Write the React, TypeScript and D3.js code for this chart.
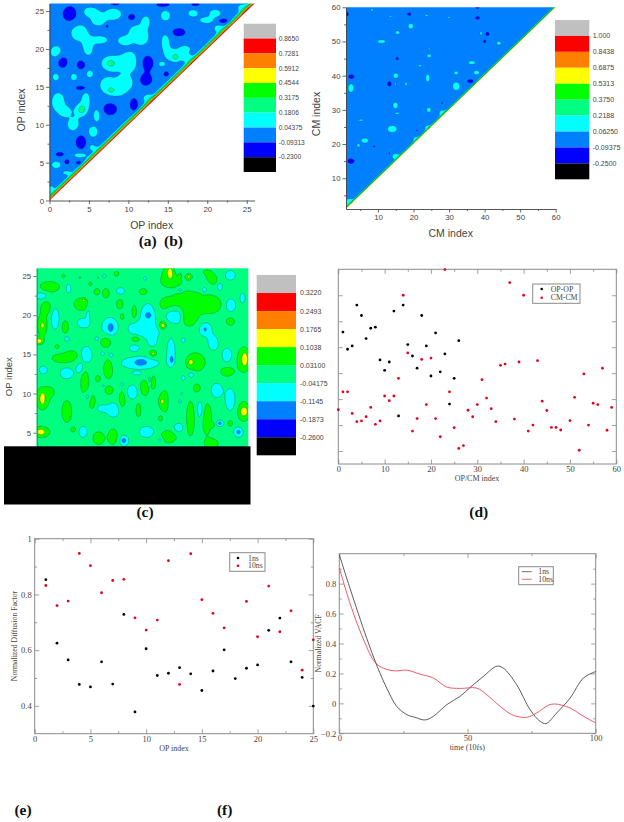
import React, { useEffect, useRef } from 'react';
import * as d3 from 'd3';

type Blob = [number, number, number, number]; // x, y, radius in x, radius in y (data units)

const levelColors = ['#000000', '#0000ff', '#0080ff', '#00ffff', '#00ff80', '#00ff00', '#ffff00', '#ff8000', '#ff0000', '#c0c0c0'];

// (a) OP-OP correlation
const opLevels = [-0.23, -0.09313, 0.04375, 0.1806, 0.3175, 0.4544, 0.5912, 0.7281, 0.865];
const opLevelLabels = ['0.8650', '0.7281', '0.5912', '0.4544', '0.3175', '0.1806', '0.04375', '-0.09313', '-0.2300'];
const opRaised: Blob[] = [
  [5.15, 24.9, 0.9, 0.6], [6.2, 23.8, 0.8, 0.7], [8.1, 24.6, 1.0, 0.75], [3.7, 22.2, 1.0, 1.1], [4.9, 20.3, 0.6, 1.1],
  [6.4, 21.2, 0.9, 0.5], [0.85, 19.6, 0.7, 0.8], [9.5, 21.1, 0.8, 0.55], [11.1, 22.2, 1, 0.9], [12.2, 23.6, 0.5, 0.7],
  [11.7, 21.4, 0.7, 0.8], [14.7, 24.4, 0.6, 0.65], [18.2, 24.7, 0.6, 0.45], [19.9, 23.8, 0.8, 0.4], [21, 24.7, 0.7, 0.5],
  [14.7, 20.9, 0.5, 1], [15.7, 19.2, 1, 0.8], [17.2, 20, 0.6, 0.4], [7.9, 18.1, 1.3, 1], [10.2, 18.3, 1, 1.3],
  [5.1, 16.7, 0.4, 0.45], [3.1, 16.3, 0.4, 0.45], [0.8, 16.3, 0.4, 0.45], [8.3, 14.8, 1.5, 1.1], [9.6, 15.6, 0.8, 0.7],
  [7.3, 15.4, 0.6, 0.6], [1.1, 13, 0.8, 1.2], [2, 11.7, 0.6, 0.6], [4.6, 13.2, 0.5, 1], [3.9, 11.9, 0.7, 0.8],
  [3, 10, 0.7, 0.8], [6, 11.25, 0.4, 0.8], [5.5, 9.05, 0.6, 0.7], [3.9, 6, 0.8, 0.35], [0.85, 4.7, 0.55, 0.45],
  [2.2, 3.65, 0.5, 0.25], [14.2, 18, 0.4, 0.3], [0.2, 1.5, 0.35, 0.4],
  [5.5, 7, 0.5, 0.4], [12.5, 13.5, 0.6, 0.5], [17.5, 18.8, 0.6, 0.5], [21.5, 22.7, 0.6, 0.5], [24.5, 25.4, 0.6, 0.5],
];
const opPeaks: Blob[] = [[7.75, 18.1, 0.5, 0.4], [16, 18.9, 0.4, 0.4], [7.8, 14.55, 0.35, 0.3], [4.1, 12, 0.4, 0.45]];
const opDips: Blob[] = [
  [2.6, 24.6, 0.9, 1], [10.4, 24.2, 0.45, 0.4], [7.3, 23, 0.15, 0.2], [16.4, 22.2, 0.8, 0.5], [22, 23.7, 0.6, 0.3],
  [1.65, 18.3, 0.6, 0.75], [4, 17.9, 0.5, 0.55], [12.4, 18.15, 0.75, 0.95], [12.2, 15.9, 0.75, 0.7], [4, 14.85, 0.6, 0.25],
  [7.7, 12.1, 0.85, 0.8], [10.7, 12.7, 0.5, 0.85], [4, 7.7, 0.65, 0.9], [1.3, 6.1, 0.5, 0.25], [2.2, 5.1, 0.3, 0.3],
  [3.7, 5, 0.35, 0.2], [14.8, 16.7, 0.3, 0.3], [8.3, 26, 0.6, 0.25], [14.4, 25.85, 0.8, 0.3], [18.5, 25.9, 0.5, 0.2],
  [5.8, 7.4, 0.12, 0.12],
];

// (b) CM-CM correlation
const cmLevels = [-0.25, -0.09375, 0.0625, 0.2188, 0.375, 0.5313, 0.6875, 0.8438, 1.0];
const cmLevelLabels = ['1.000', '0.8438', '0.6875', '0.5313', '0.3750', '0.2188', '0.06250', '-0.09375', '-0.2500'];
const cmRaised: Blob[] = [
  [11, 50, 1.1, 0.5], [19.2, 54.5, 0.7, 0.8], [15.5, 52.6, 0.6, 0.5], [13.5, 57.3, 0.4, 0.25], [23.7, 57.6, 0.4, 0.3],
  [8.3, 59.2, 0.3, 0.4], [30, 57, 0.3, 0.3], [39, 52.4, 0.3, 0.5], [44, 49.5, 0.6, 0.5], [24.4, 45.8, 0.6, 0.5],
  [24.4, 47.9, 0.3, 0.2], [36.4, 43.8, 1, 0.5], [21.8, 42.9, 0.5, 0.3], [37.7, 40.9, 0.8, 0.6], [32, 40.8, 0.6, 0.5],
  [15, 40, 0.7, 0.7], [24, 39.3, 0.55, 1.1], [2.4, 36.4, 0.8, 1.2], [32, 36.9, 1, 1.2], [17.9, 37.6, 0.3, 0.6],
  [14.9, 37.5, 0.15, 0.5], [14.9, 31.3, 0.7, 0.9], [24.3, 30, 0.6, 0.7], [15.4, 29, 0.7, 0.25], [5.2, 27, 0.7, 0.25],
  [14, 24.4, 1.3, 1], [6.3, 21, 1, 0.7], [4.5, 19.6, 0.4, 0.5], [28.2, 29, 1, 0.9], [24.2, 24.7, 1, 0.8],
  [20.9, 21.4, 1, 0.7], [15, 16.4, 1, 0.8], [2, 3, 1.5, 1],
];
const cmDips: Blob[] = [
  [1.2, 58, 0.5, 0.6], [18.8, 58, 0.5, 0.4], [38, 59.9, 0.5, 0.3], [38, 56.9, 0.6, 0.4], [40.8, 52.2, 0.5, 0.5],
  [40, 50, 0.4, 0.4], [15.4, 45, 0.4, 0.4], [2.5, 39.7, 0.8, 0.6], [13.2, 37.6, 0.5, 0.7], [36, 38.4, 0.8, 0.5],
  [2.4, 15, 0.9, 0.7], [28, 32, 0.2, 0.2], [8.9, 19.3, 0.2, 0.2], [13.2, 17.3, 0.2, 0.2], [21, 24, 0.2, 0.2],
];

// (c) OP-CM correlation
const crossLevels = [-0.26, -0.1873, -0.1145, -0.04175, 0.031, 0.1038, 0.1765, 0.2493, 0.322];
const crossLevelLabels = ['0.3220', '0.2493', '0.1765', '0.1038', '0.03100', '-0.04175', '-0.1145', '-0.1873', '-0.2600'];
const crossGreen: Blob[] = [
  [1.6, 23.6, 1.2, 0.7], [1.2, 21, 0.6, 0.8], [0.7, 18.7, 0.6, 1.4], [0.3, 16.7, 0.5, 0.4], [3.3, 14.5, 1.4, 0.6],
  [4.3, 15, 0.6, 0.4], [0.7, 9.4, 0.9, 1.4], [1.6, 10.2, 0.5, 0.5], [0.6, 5.1, 1, 0.7], [5.5, 21.4, 0.9, 0.8],
  [3.5, 18.5, 0.4, 0.8], [10.2, 21.4, 0.4, 0.6], [12, 20.4, 0.3, 0.9], [7.4, 23, 0.35, 0.4], [8.5, 22.8, 0.4, 0.6],
  [10.5, 19.8, 0.25, 0.4], [8.5, 16.6, 0.7, 0.7], [12.2, 17, 0.6, 0.4], [5.9, 11.4, 0.5, 1.7], [7.5, 11.9, 0.3, 0.4],
  [8.8, 13.2, 0.6, 1.3], [6.8, 9, 0.4, 1], [3.7, 7.7, 0.6, 1.4], [4.5, 5.4, 0.3, 0.3], [10.5, 9.2, 0.4, 1.1],
  [8.9, 10.4, 0.5, 0.5], [12.5, 7.9, 0.3, 0.9], [13.2, 10.7, 0.6, 1], [14.3, 15.1, 0.5, 0.5], [7.6, 4.3, 0.7, 0.8],
  [9.4, 4.5, 0.6, 1], [16, 9, 1, 1.5], [14.3, 11.5, 0.3, 0.8], [19.5, 14, 1.2, 1.2], [18.9, 6.8, 0.5, 2.2],
  [20.9, 6.8, 0.6, 2], [23.4, 12.8, 0.8, 0.6], [16.6, 24.3, 1.2, 0.7], [16.2, 25.3, 0.7, 1], [19.7, 21.5, 2.5, 1.1],
  [18.4, 22.2, 1.2, 0.7], [16, 21.3, 0.9, 0.9], [18.8, 19.6, 1, 1], [21.3, 21.3, 1, 0.8], [15.5, 18.7, 0.5, 0.6],
  [23.8, 19.2, 0.5, 0.5], [25.4, 14.3, 0.8, 1.5], [25.4, 7.7, 0.7, 1.3], [20.9, 25.1, 0.8, 0.7], [18.7, 24.9, 0.4, 0.4],
  [21.7, 24.5, 0.4, 0.5], [13.1, 23, 0.5, 0.4], [9.8, 25.3, 0.3, 0.3], [16.2, 4.5, 1, 0.8], [19.7, 10.7, 0.4, 0.5],
  [23.8, 6.2, 0.3, 0.4], [15.2, 6.8, 0.2, 0.3], [21.5, 3.6, 0.8, 0.6], [3.3, 25, 0.2, 0.2], [5.3, 24.8, 0.12, 0.12],
  [6.6, 24, 0.2, 0.25], [7.5, 24.8, 0.1, 0.1], [2.5, 16, 0.25, 0.25],
];
const crossYellow: Blob[] = [
  [0.7, 18.7, 0.2, 0.3], [0.3, 16.7, 0.3, 0.3], [0.7, 9.3, 0.3, 0.8], [0.5, 5.1, 0.5, 0.4], [5.8, 21.9, 0.2, 0.2],
  [14.3, 15.1, 0.15, 0.2], [15.4, 9, 0.25, 0.35], [18.9, 14, 0.3, 0.35], [21.6, 6, 0.25, 0.3], [16.4, 25.5, 0.3, 0.7],
  [17.6, 25.1, 0.15, 0.25], [15.5, 18.7, 0.3, 0.35], [25.6, 14.4, 0.4, 1], [25.5, 7.7, 0.5, 0.6], [18.7, 24.9, 0.15, 0.15],
];
const crossCyan: Blob[] = [
  [0.6, 22.5, 0.7, 0.5], [3.9, 23.4, 0.3, 0.6], [2.25, 19.6, 0.5, 1.4], [5.7, 19, 0.7, 0.6], [6.3, 20, 0.2, 0.9],
  [9, 18.5, 1, 1.2], [12.3, 18.3, 1, 0.8], [13.7, 20, 0.9, 1.5], [13.9, 17.9, 1.2, 0.8], [16.4, 20.2, 0.7, 1.1],
  [17.4, 19.8, 0.5, 0.9], [20.7, 18.2, 0.8, 0.9], [21.7, 16.4, 0.6, 0.9], [23.8, 21.3, 0.7, 0.9], [6.1, 14.9, 0.7, 1.1],
  [5.3, 13.2, 0.4, 0.6], [3.7, 12.6, 0.8, 0.7], [0.8, 13, 0.5, 0.5], [12.7, 13.9, 2.3, 0.8], [12.3, 12.6, 0.5, 0.2],
  [16.5, 15.3, 0.5, 1.7], [23.4, 14.9, 0.6, 0.9], [11.8, 10.2, 0.7, 0.9], [22.1, 10.4, 0.7, 0.9], [23.8, 9.2, 0.6, 1.4],
  [20.1, 7.9, 0.4, 1.2], [16.6, 9, 0.5, 1.2], [9.4, 7.9, 0.8, 0.9], [8, 8.1, 0.6, 0.4], [6.3, 9.6, 0.4, 0.7],
  [13.9, 11.7, 0.2, 0.6], [5.7, 5.1, 0.5, 0.7], [13.5, 5.1, 0.9, 0.7], [17.4, 5.6, 0.6, 0.6], [22.5, 6.2, 0.5, 0.4],
  [24.8, 5.1, 0.6, 0.7], [10.7, 4, 0.6, 0.7], [20.5, 24.8, 0.35, 0.45], [23.8, 25.1, 0.6, 0.6], [22.5, 23.6, 0.3, 0.5],
  [20.6, 23.2, 0.3, 0.4], [10.3, 23.1, 0.5, 0.4], [18, 16.8, 0.25, 0.3], [12, 15.8, 0.6, 0.4], [14.2, 16.6, 0.5, 0.6],
  [9.1, 14.9, 0.3, 0.3], [8.1, 15.1, 0.25, 0.25], [19, 12.4, 0.4, 0.4], [18, 12, 0.25, 0.3], [3.7, 17, 0.3, 0.3],
  [7.4, 17, 0.25, 0.25], [25.3, 22.2, 0.3, 0.6], [17.6, 23.2, 0.3, 0.3], [13.3, 24.7, 0.2, 0.2], [8.3, 25, 0.2, 0.2],
  [8.2, 11, 0.15, 0.15], [10.5, 11.2, 0.2, 0.2], [17.6, 9, 0.2, 0.2], [17.8, 10, 0.15, 0.15], [15.2, 4.1, 0.3, 0.3],
];
const crossBlue: Blob[] = [
  [9.1, 18.4, 0.35, 0.6], [13.7, 20, 0.4, 0.35], [20.7, 18.2, 0.15, 0.25], [12.8, 14, 0.8, 0.45], [16.6, 14.3, 0.25, 0.5],
  [22.5, 6.2, 0.2, 0.2], [24.8, 5.1, 0.25, 0.25], [10.7, 4, 0.3, 0.3],
];

// (d) dipole correlation per index
const opOpIndex = d3.range(1, 27);
const opOpValues = [0.458, 0.392, 0.405, 0.562, 0.522, 0.433, 0.473, 0.477, 0.351, 0.311, 0.343, 0.539, 0.135, 0.562, 0.41, 0.366, 0.319, 0.522, 0.405, 0.289, 0.455, 0.305, 0.374, 0.181, 0.28, 0.425];
const cmCmIndex = d3.range(0, 60);
const cmCmValues = [
  0.159, 0.228, 0.228, 0.145, 0.113, 0.116, 0.132, 0.168, 0.103, 0.116, 0.212, 0.194, 0.212, 0.28, 0.6, 0.378, 0.077, 0.125, 0.353, 0.179,
  0.358, 0.125, 0.055, 0.699, 0.228, 0.09, 0.01, 0.021, 0.157, 0.132, 0.179, 0.275, 0.204, 0.163, 0.113, 0.33, 0.335, 0.649, 0.123, 0.343,
  0.6, 0.077, 0.1, 0.348, 0.192, 0.156, 0.091, 0.091, 0.081, 0.572, 0.117, 0.207, 0.003, 0.297, 0.1, 0.184, 0.179, 0.319, 0.08, 0.168,
];

// (e) normalized diffusion factor
const diff1nsIndex = d3.range(1, 26);
const diff1nsValues = [0.853, 0.625, 0.565, 0.477, 0.468, 0.558, 0.478, 0.728, 0.378, 0.605, 0.509, 0.517, 0.537, 0.515, 0.455, 0.525, 0.601, 0.498, 0.535, 0.547, 0.671, 0.715, 0.558, 0.502, 0.399];
const diff10nsIndex = [1, 2, 3, 4, 5, 6, 7, 8, 9, 10, 11, 12, 13, 14, 15, 16, 17, 19, 20, 21, 22, 23, 24, 25];
const diff10nsValues = [0.832, 0.76, 0.776, 0.947, 0.903, 0.806, 0.85, 0.854, 0.716, 0.672, 0.708, 0.921, 0.477, 0.946, 0.781, 0.732, 0.68, 0.775, 0.648, 0.83, 0.666, 0.741, 0.528, 0.637];

// (f) velocity autocorrelation
const vacf1nsTime = [0, 4.2, 10.7, 14.8, 18.5, 22.4, 26.3, 29.5, 33.4, 36.7, 41.9, 47.1, 51, 56.2, 61.4, 64, 69.2, 74.4, 78.3, 80.6, 84.8, 90, 95.2, 100];
const vacf1nsValues = [0.993, 0.767, 0.435, 0.246, 0.102, -0.02, -0.075, -0.093, -0.111, -0.086, -0.009, 0.047, 0.106, 0.18, 0.248, 0.235, 0.124, -0.042, -0.12, -0.135, -0.064, 0.035, 0.169, 0.213];
const vacf10nsTime = [0, 4.2, 8.7, 13.9, 17.2, 21.7, 26.3, 31.5, 36.7, 41.9, 47.1, 53.6, 57.5, 62.7, 67.9, 73.1, 77, 81.5, 84.1, 90, 95.2, 100];
const vacf10nsValues = [0.905, 0.667, 0.457, 0.275, 0.235, 0.217, 0.222, 0.195, 0.169, 0.109, 0.1, 0.102, 0.058, -0.02, -0.08, -0.093, -0.064, -0.013, -0.004, -0.031, -0.086, -0.131];

const SANS = '"Liberation Sans", Arial, sans-serif';
const SERIF = '"Liberation Serif", "Times New Roman", serif';
const TEXT = '#444';
const RED = '#e8001c';

type Layer = { blobs: Blob[]; amp: number; cross: number };

// sum the read-off blobs on a grid and let d3.contours trace the level sets
function fieldValues(xDom: number[], yDom: number[], step: number, base: number, layers: Layer[], diag?: { peak: number; width: number }) {
  const nx = Math.round((xDom[1] - xDom[0]) / step) + 1;
  const ny = Math.round((yDom[1] - yDom[0]) / step) + 1;
  const values = new Float64Array(nx * ny);
  for (const { blobs, amp, cross } of layers) {
    const k = Math.log(amp / cross);
    const layer = new Float64Array(nx * ny);
    for (const [bx, by, rx, ry] of blobs) {
      const i0 = Math.max(0, Math.floor((bx - rx * 3 - xDom[0]) / step));
      const i1 = Math.min(nx - 1, Math.ceil((bx + rx * 3 - xDom[0]) / step));
      const j0 = Math.max(0, Math.floor((by - ry * 3 - yDom[0]) / step));
      const j1 = Math.min(ny - 1, Math.ceil((by + ry * 3 - yDom[0]) / step));
      for (let j = j0; j <= j1; j++) {
        for (let i = i0; i <= i1; i++) {
          const dx = (xDom[0] + i * step - bx) / rx;
          const dy = (yDom[0] + j * step - by) / ry;
          layer[j * nx + i] += amp * Math.exp(-k * (dx * dx + dy * dy));
        }
      }
    }
    // overlapping blobs of one layer must not climb into the next level
    const cap = Math.abs(amp) * 1.05;
    for (let n = 0; n < layer.length; n++) {
      values[n] += Math.max(-cap, Math.min(cap, layer[n]));
    }
  }
  for (let j = 0; j < ny; j++) {
    for (let i = 0; i < nx; i++) {
      let v = base + values[j * nx + i];
      if (diag) {
        const d = Math.max(0, yDom[0] + j * step - (xDom[0] + i * step));
        v += diag.peak * Math.exp(-(d * d) / (diag.width * diag.width));
      }
      values[j * nx + i] = v;
    }
  }
  return { values, nx, ny };
}

function drawContour(svg: any, id: string, x: any, y: any, levels: number[], field: any, xDom: number[], yDom: number[], step: number, clipPoints: number[][]) {
  const contours = d3.contours().size([field.nx, field.ny]).thresholds(levels)(field.values as any);
  const project = d3.geoTransform({
    point(px: number, py: number) {
      (this as any).stream.point(x(xDom[0] + (px - 0.5) * step), y(yDom[0] + (py - 0.5) * step));
    },
  });
  const path = d3.geoPath(project);
  svg.append('clipPath').attr('id', id).append('polygon')
    .attr('points', clipPoints.map((p) => `${x(p[0])},${y(p[1])}`).join(' '));
  svg.append('g').attr('clip-path', `url(#${id})`).attr('filter', 'url(#soft)')
    .selectAll('path').data(contours).enter().append('path')
    .attr('d', (d: any) => path(d))
    .attr('fill', (_: any, i: number) => levelColors[i + 1])
    .attr('stroke', '#10204a')
    .attr('stroke-opacity', 0.8)
    .attr('stroke-width', 0.35);
}

function drawLegend(svg: any, x0: number, width: number, top: number, bottom: number, labels: string[], labelX: number, fontSize: number) {
  const band = d3.scaleBand<number>().domain(d3.range(10)).range([top, bottom]);
  svg.append('g').selectAll('rect').data([...levelColors].reverse()).enter().append('rect')
    .attr('x', x0).attr('width', width)
    .attr('y', (_: any, i: number) => band(i))
    .attr('height', band.bandwidth())
    .attr('fill', (d: string) => d);
  svg.append('g').selectAll('text').data(labels).enter().append('text')
    .attr('x', labelX)
    .attr('y', (_: any, i: number) => (band(i) as number) + band.bandwidth() + fontSize * 0.35)
    .attr('font-family', SANS).attr('font-size', fontSize).attr('fill', TEXT)
    .text((d: string) => d);
}

function label(svg: any, text: string, x: number, y: number, font: string, size: number, rotate = false, bold = false) {
  svg.append('text')
    .attr('transform', `translate(${x},${y})${rotate ? ' rotate(-90)' : ''}`)
    .attr('text-anchor', 'middle')
    .attr('font-family', font).attr('font-size', size)
    .attr('font-weight', bold ? 'bold' : 'normal')
    .attr('fill', bold ? '#111' : TEXT)
    .text(text);
}

function styleAxis(g: any, font: string, size: number, color: string) {
  g.selectAll('line').attr('stroke', color).attr('stroke-width', 0.8);
  g.selectAll('path').attr('stroke', color).attr('stroke-width', 0.9);
  g.selectAll('text').attr('font-family', font).attr('font-size', size).attr('fill', TEXT);
}

// origin style axes: ticks point outwards, major + minor
function originAxis(svg: any, side: 'left' | 'bottom', scale: any, at: number, major: number[], minor: number[], color = '#444') {
  const make = side === 'left' ? d3.axisLeft : d3.axisBottom;
  const translate = side === 'left' ? `translate(${at},0)` : `translate(0,${at})`;
  const g = svg.append('g').attr('transform', translate)
    .call(make(scale).tickValues(major).tickSizeInner(3.5).tickSizeOuter(0).tickPadding(2).tickFormat(d3.format('d') as any));
  styleAxis(g, SANS, 7.8, color);
  const m = svg.append('g').attr('transform', translate)
    .call(make(scale).tickValues(minor).tickSizeInner(2).tickSizeOuter(0).tickFormat(() => ''));
  styleAxis(m, SANS, 7.8, color);
  m.select('path').remove();
}

// xmgrace style frame: ticks point inwards on all four sides
function graceFrame(svg: any, x: any, y: any, xMajor: number[], xMinor: number[], yMajor: number[], yMinor: number[], xFmt: any, yFmt: any) {
  const [xl, xr] = x.range();
  const [yb, yt] = y.range();
  const color = '#8a8a8a';
  svg.append('rect').attr('x', xl).attr('y', yt).attr('width', xr - xl).attr('height', yb - yt)
    .attr('fill', 'none').attr('stroke', color).attr('stroke-width', 1);
  const sides: [any, string, any, number[], number[], any, number][] = [
    [d3.axisBottom, `translate(0,${yb})`, x, xMajor, xMinor, xFmt, 2],
    [d3.axisTop, `translate(0,${yt})`, x, xMajor, xMinor, () => '', 2],
    [d3.axisLeft, `translate(${xl},0)`, y, yMajor, yMinor, yFmt, 3],
    [d3.axisRight, `translate(${xr},0)`, y, yMajor, yMinor, () => '', 3],
  ];
  for (const [make, translate, scale, major, minor, fmt, pad] of sides) {
    const g = svg.append('g').attr('transform', translate)
      .call(make(scale).tickValues(major).tickSizeInner(-4.5).tickSizeOuter(0).tickPadding(pad).tickFormat(fmt));
    styleAxis(g, SERIF, 8.5, color);
    g.selectAll('text').attr('fill', TEXT);
    g.select('path').remove();
    if (minor.length) {
      const m = svg.append('g').attr('transform', translate)
        .call(make(scale).tickValues(minor).tickSizeInner(-2.5).tickSizeOuter(0).tickFormat(() => ''));
      styleAxis(m, SERIF, 8.5, color);
      m.select('path').remove();
    }
  }
}

function dots(svg: any, x: any, y: any, xs: number[], ys: number[], color: string) {
  svg.append('g').selectAll('circle').data(ys).enter().append('circle')
    .attr('cx', (_: any, i: number) => x(xs[i]))
    .attr('cy', (d: number) => y(d))
    .attr('r', 1.4)
    .attr('fill', color);
}

function graceLegend(svg: any, x0: number, y0: number, w: number, h: number, names: string[], colors: string[], rows: number[], markerX: number, textX: number, asLine: boolean) {
  svg.append('rect').attr('x', x0).attr('y', y0).attr('width', w).attr('height', h)
    .attr('fill', '#fff').attr('stroke', '#8a8a8a').attr('stroke-width', 1);
  names.forEach((name, i) => {
    if (asLine) {
      svg.append('line').attr('x1', markerX).attr('x2', markerX + 10).attr('y1', rows[i]).attr('y2', rows[i])
        .attr('stroke', colors[i]).attr('stroke-width', 0.7);
    } else {
      svg.append('circle').attr('cx', markerX).attr('cy', rows[i]).attr('r', 1.3).attr('fill', colors[i]);
    }
    svg.append('text').attr('x', textX).attr('y', rows[i] + 2.7)
      .attr('font-family', SERIF).attr('font-size', 7.8).attr('fill', TEXT).text(name);
  });
}

const App = () => {
  const svgRef = useRef<SVGSVGElement>(null);

  useEffect(() => {
    const svg = d3.select(svgRef.current);
    svg.selectAll('*').remove();
    svg.append('filter').attr('id', 'soft').append('feGaussianBlur').attr('stdDeviation', 0.3);

    // panel (a)
    const ax = d3.scaleLinear().domain([0, 26]).range([49.5, 254.6]);
    const ay = d3.scaleLinear().domain([0, 26]).range([200.5, 3.5]);
    const aDom = [-1, 27];
    const aField = fieldValues(aDom, aDom, 0.1, -0.02, [
      { blobs: opRaised, amp: 0.13, cross: 0.064 },
      { blobs: opPeaks, amp: 0.16, cross: 0.07 },
      { blobs: opDips, amp: -0.13, cross: -0.073 },
    ], { peak: 0.78, width: 0.55 });
    drawContour(svg, 'clip-a', ax, ay, opLevels, aField, aDom, aDom, 0.1, [[0, 0], [0, 26], [26, 26]]);
    originAxis(svg, 'left', ay, 49.5, d3.range(0, 26, 5), d3.range(2.5, 26, 5));
    originAxis(svg, 'bottom', ax, 200.5, d3.range(0, 26, 5), d3.range(2.5, 26, 5));
    label(svg, 'OP index', 25, 110, SANS, 10.5, true);
    label(svg, 'OP index', 151.7, 229, SANS, 10.5);
    drawLegend(svg, 243.7, 32.3, 23.7, 172, opLevelLabels, 278.7, 6.6);
    label(svg, '(a)', 147.7, 245.5, SERIF, 15.5, false, true);
    label(svg, '(b)', 173.5, 245.5, SERIF, 15.5, false, true);

    // panel (b)
    const bx = d3.scaleLinear().domain([1, 60]).range([346, 555.7]);
    const by = d3.scaleLinear().domain([1, 60]).range([209, 7.3]);
    const bDom = [0, 61];
    const bField = fieldValues(bDom, bDom, 0.2, 0, [
      { blobs: cmRaised, amp: 0.13, cross: 0.0625 },
      { blobs: cmDips, amp: -0.17, cross: -0.094 },
    ], { peak: 0.6, width: 0.55 });
    drawContour(svg, 'clip-b', bx, by, cmLevels, bField, bDom, bDom, 0.2, [[1, 1], [1, 60], [60, 60]]);
    originAxis(svg, 'left', by, 346, d3.range(10, 61, 10), d3.range(5, 60, 10));
    originAxis(svg, 'bottom', bx, 209, d3.range(10, 61, 10), d3.range(5, 60, 10));
    label(svg, 'CM index', 320, 114, SANS, 10.5, true);
    label(svg, 'CM index', 450.7, 237, SANS, 10.5);
    drawLegend(svg, 555, 34.3, 20, 179.3, cmLevelLabels, 592.7, 7);

    // panel (c)
    const cx = d3.scaleLinear().domain([0, 26]).range([36.7, 248.3]);
    const cy = d3.scaleLinear().domain([0, 26]).range([471.9, 268.2]);
    const cDom = [-1, 27];
    const cField = fieldValues(cDom, cDom, 0.1, -0.005, [
      { blobs: crossGreen, amp: 0.08, cross: 0.036 },
      { blobs: crossYellow, amp: 0.09, cross: 0.034 },
      { blobs: crossCyan, amp: -0.08, cross: -0.037 },
      { blobs: crossBlue, amp: -0.09, cross: -0.03 },
    ]);
    drawContour(svg, 'clip-c', cx, cy, crossLevels, cField, cDom, cDom, 0.1, [[0, 0], [0, 26], [26, 26], [26, 0]]);
    originAxis(svg, 'left', cy, 36.7, d3.range(5, 26, 5), d3.range(7.5, 26, 5), '#2f6f70');
    label(svg, 'OP index', 11.7, 376.7, SANS, 9.5, true);
    drawLegend(svg, 256.7, 39.3, 275, 455.3, crossLevelLabels, 300, 7);
    svg.append('rect').attr('x', 4).attr('y', 446.3).attr('width', 246.5).attr('height', 58.2).attr('fill', '#000');
    label(svg, '(c)', 145, 516.5, SERIF, 15.5, false, true);

    // panel (d)
    const dx = d3.scaleLinear().domain([0, 60]).range([338.3, 616.3]);
    const dy = d3.scaleLinear().domain([-0.05, 0.7]).range([464, 269.3]);
    graceFrame(svg, dx, dy, d3.range(0, 61, 10), d3.range(5, 60, 10), d3.range(0, 0.65, 0.1), [], d3.format('d'), () => '');
    dots(svg, dx, dy, opOpIndex, opOpValues, '#000');
    dots(svg, dx, dy, cmCmIndex, cmCmValues, RED);
    graceLegend(svg, 532.7, 284, 47.3, 19.3, ['OP-OP', 'CM-CM'], ['#000', RED], [289, 297.7], 541.7, 550.7, false);
    label(svg, 'OP/CM index', 477, 481, SERIF, 8);
    label(svg, '(d)', 478.7, 517, SERIF, 15.5, false, true);

    // panel (e)
    const ex = d3.scaleLinear().domain([0, 25]).range([34.7, 313.3]);
    const ey = d3.scaleLinear().domain([0.3, 1]).range([733.7, 538.7]);
    graceFrame(svg, ex, ey, d3.range(0, 26, 5), d3.range(2.5, 25, 5), [0.4, 0.6, 0.8, 1], [0.5, 0.7, 0.9], d3.format('d'), d3.format('~g'));
    dots(svg, ex, ey, diff1nsIndex, diff1nsValues, '#000');
    dots(svg, ex, ey, diff10nsIndex, diff10nsValues, RED);
    graceLegend(svg, 229.7, 552.7, 35.3, 18.6, ['1ns', '10ns'], ['#000', RED], [558, 565.7], 238, 248, false);
    label(svg, 'OP index', 174, 750.5, SERIF, 8);
    label(svg, 'Normalized Diffusion Factor', 17.3, 636, SERIF, 7.8, true);
    label(svg, '(e)', 23, 815, SERIF, 15.5, false, true);
    label(svg, '(f)', 224.7, 815, SERIF, 15.5, false, true);

    // panel (f)
    const fx = d3.scaleLinear().domain([0, 100]).range([339.3, 595.7]);
    const fy = d3.scaleLinear().domain([-0.2, 1]).range([733.3, 553.7]);
    graceFrame(svg, fx, fy, [0, 50, 100], [25, 75], [-0.2, 0, 0.2, 0.4, 0.6, 0.8], [-0.1, 0.1, 0.3, 0.5, 0.7, 0.9], d3.format('d'), d3.format('~g'));
    const vacfPath = (ts: number[], vs: number[]) =>
      d3.line<number>().x((_, i) => fx(ts[i])).y((d) => fy(d)).curve(d3.curveCatmullRom.alpha(0.5))(vs);
    svg.append('path').attr('d', vacfPath(vacf1nsTime, vacf1nsValues)).attr('fill', 'none').attr('stroke', '#333').attr('stroke-width', 0.8);
    svg.append('path').attr('d', vacfPath(vacf10nsTime, vacf10nsValues)).attr('fill', 'none').attr('stroke', '#ee3048').attr('stroke-width', 0.8);
    graceLegend(svg, 518.7, 566.7, 34.6, 18, ['1ns', '10ns'], ['#333', '#ee3048'], [571.7, 579.3], 521.7, 538.3, true);
    label(svg, 'time (10fs)', 467.3, 749.5, SERIF, 8);
    label(svg, 'Normalized VACF', 320.7, 643.3, SERIF, 7.8, true);
  }, []);

  return <svg ref={svgRef} width={624} height={822} style={{ position: 'absolute', left: 0, top: 0, background: '#fff' }}></svg>;
};

export default App;
